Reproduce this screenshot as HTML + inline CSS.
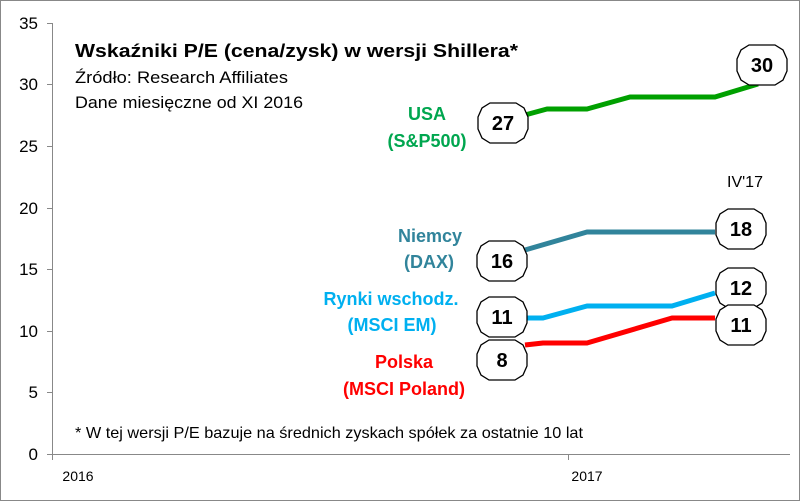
<!DOCTYPE html>
<html><head><meta charset="utf-8"><style>
body{margin:0;background:#fff}
svg{display:block;font-family:"Liberation Sans","DejaVu Sans",sans-serif}
</style></head><body>
<svg width="800" height="501" viewBox="0 0 800 501">
<rect x="0.5" y="0.5" width="799" height="500" fill="#fff" stroke="#888"/>
<g stroke="#888" stroke-width="1">
<line x1="52.5" y1="23" x2="52.5" y2="454"/>
<line x1="52" y1="454.5" x2="790" y2="454.5"/>
<line x1="47" y1="23.5" x2="52" y2="23.5"/><line x1="47" y1="84.5" x2="52" y2="84.5"/>
<line x1="47" y1="146.5" x2="52" y2="146.5"/><line x1="47" y1="208.5" x2="52" y2="208.5"/>
<line x1="47" y1="269.5" x2="52" y2="269.5"/><line x1="47" y1="331.5" x2="52" y2="331.5"/>
<line x1="47" y1="392.5" x2="52" y2="392.5"/><line x1="47" y1="454.5" x2="52" y2="454.5"/>
<line x1="52.5" y1="454" x2="52.5" y2="460"/><line x1="568.5" y1="454" x2="568.5" y2="460"/>
</g>
<g font-size="17" fill="#000" text-anchor="end">
<text x="38" y="29">35</text><text x="38" y="90">30</text><text x="38" y="152">25</text>
<text x="38" y="214">20</text><text x="38" y="275">15</text><text x="38" y="337">10</text>
<text x="38" y="398">5</text><text x="38" y="460">0</text>
</g>
<g font-size="14" text-anchor="middle"><text x="78" y="481">2016</text><text x="587" y="481">2017</text></g>
<text x="75" y="57" font-size="18" font-weight="bold" textLength="443" lengthAdjust="spacingAndGlyphs">Wskaźniki P/E (cena/zysk) w wersji Shillera*</text>
<text x="75" y="83" font-size="17" textLength="213" lengthAdjust="spacingAndGlyphs">Źródło: Research Affiliates</text>
<text x="75" y="108" font-size="17" textLength="228" lengthAdjust="spacingAndGlyphs">Dane miesięczne od XI 2016</text>
<text x="75" y="438" font-size="16" textLength="508" lengthAdjust="spacingAndGlyphs">* W tej wersji P/E bazuje na średnich zyskach spółek za ostatnie 10 lat</text>
<text x="727" y="187" font-size="16">IV'17</text>
<g font-size="18" font-weight="bold" text-anchor="middle">
<text x="427" y="120" fill="#00a64f">USA</text><text x="427" y="147" fill="#00a64f">(S&amp;P500)</text>
<text x="430" y="242" fill="#31849b">Niemcy</text><text x="429" y="268" fill="#31849b">(DAX)</text>
<text x="391" y="305" fill="#00b0f0">Rynki wschodz.</text><text x="392" y="331" fill="#00b0f0">(MSCI EM)</text>
<text x="404" y="368" fill="#ff0000">Polska</text><text x="404" y="395" fill="#ff0000">(MSCI Poland)</text>
</g>
<g fill="none" stroke-width="5" stroke-linejoin="round">
<polyline stroke="#00a000" points="525,115 547,109 587,109 630,97 715,97 758,84"/>
<polyline stroke="#31849b" points="525,250 587,232 715,232"/>
<polyline stroke="#00b0f0" points="525,318 543,318 587,306 672,306 715,293"/>
<polyline stroke="#ff0000" points="525,345 543,343 587,343 672,318 715,318"/>
</g>
<defs><polygon id="o" points="-13,-20 13,-20 21,-15 25,-6 25,6 21,15 13,20 -13,20 -21,15 -25,6 -25,-6 -21,-15" fill="#fff" stroke="#000" stroke-width="1.3"/></defs>
<g font-size="20" font-weight="bold" text-anchor="middle">
<use href="#o" x="503" y="123"/><text x="503" y="130">27</text>
<use href="#o" x="762" y="65"/><text x="762" y="72">30</text>
<use href="#o" x="502" y="261"/><text x="502" y="268">16</text>
<use href="#o" x="741" y="229"/><text x="741" y="236">18</text>
<use href="#o" x="502" y="317"/><text x="502" y="324">11</text>
<use href="#o" x="741" y="288"/><text x="741" y="295">12</text>
<use href="#o" x="741" y="325"/><text x="741" y="332">11</text>
<use href="#o" x="502" y="360"/><text x="502" y="367">8</text>
</g>
</svg>
</body></html>
